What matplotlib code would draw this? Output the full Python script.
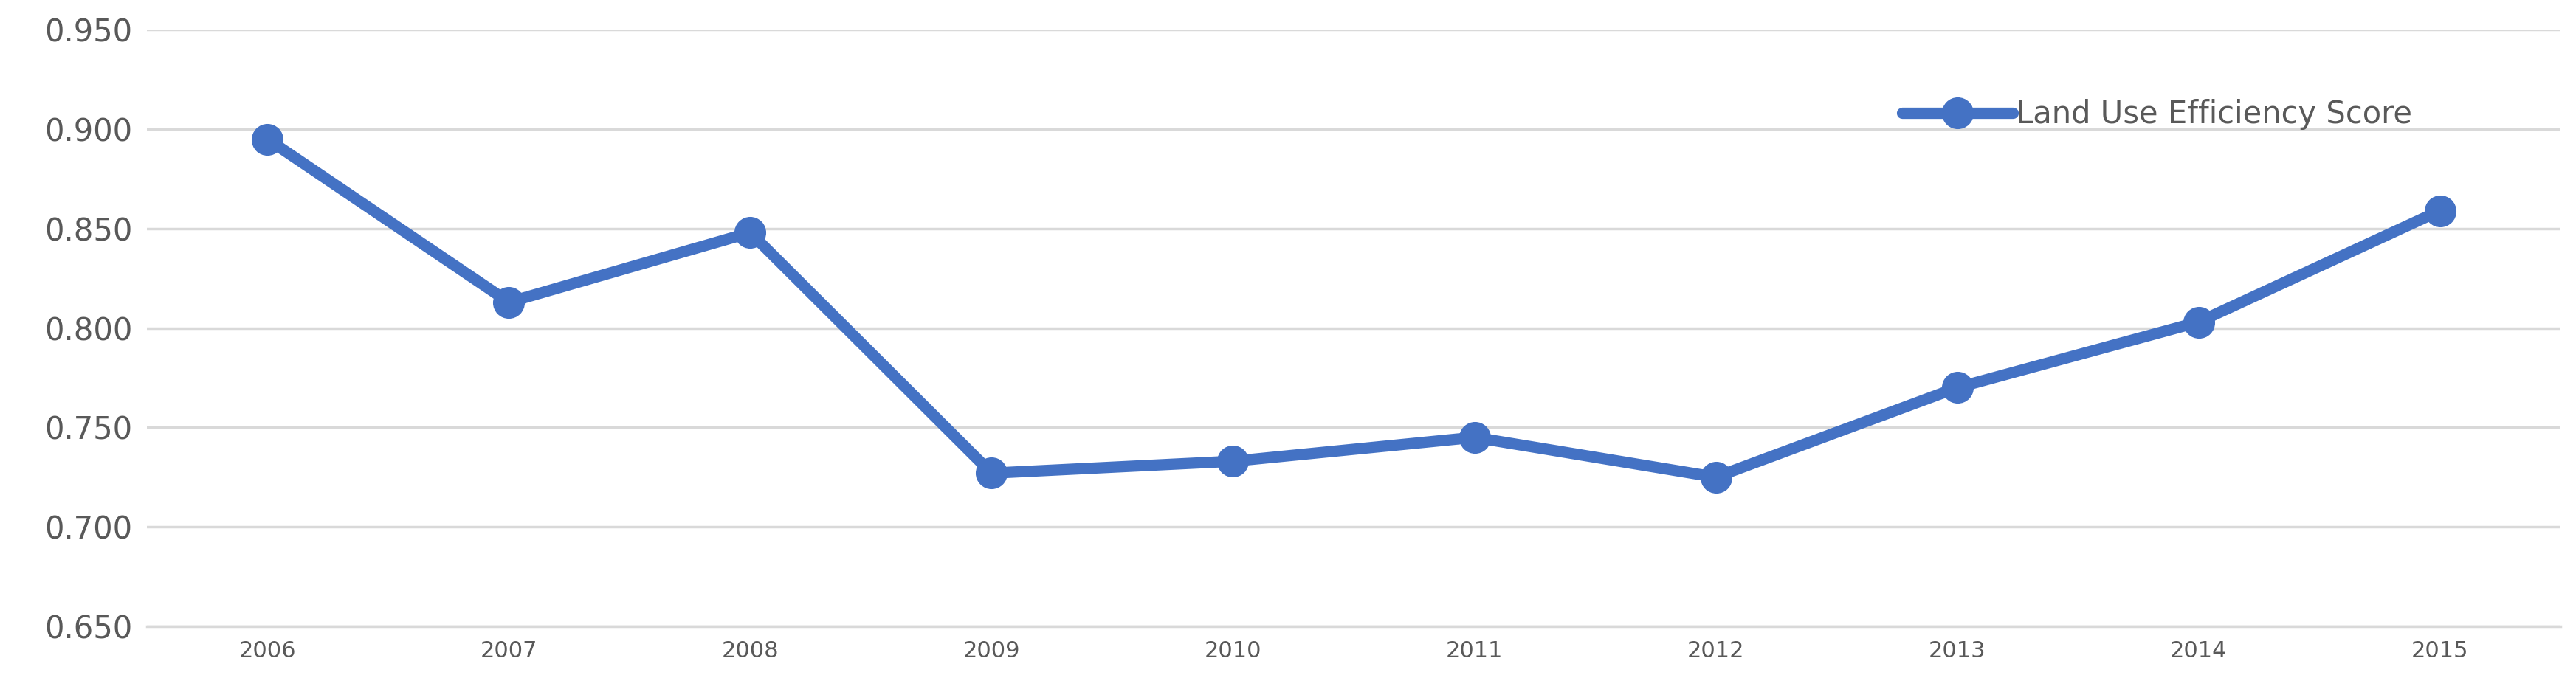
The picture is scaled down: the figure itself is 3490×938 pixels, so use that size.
import matplotlib
matplotlib.use("Agg")
import matplotlib.pyplot as plt

years = ["2006","2007","2008","2009","2010","2011","2012","2013","2014","2015"]
scores = [0.895, 0.813, 0.848, 0.727, 0.733, 0.745, 0.725, 0.770, 0.803, 0.859]
yticks = [0.650, 0.700, 0.750, 0.800, 0.850, 0.900, 0.950]

fig = plt.figure(figsize=(34.9, 9.38), dpi=100)
ax = fig.add_axes([0.057, 0.095, 0.937, 0.862])
x = list(range(len(years)))
ax.plot(x, scores, color="#4472C4", lw=11, marker="o", markersize=30,
        label="Land Use Efficiency Score", solid_capstyle="round", zorder=3)
ax.set_xlim(-0.5, len(years) - 0.5)
ax.set_ylim(0.650, 0.950)
ax.set_yticks(yticks)
ax.set_yticklabels([f"{v:.3f}" for v in yticks], fontsize=30, color="#595959")
ax.set_xticks(x)
ax.set_xticklabels(years, fontsize=22, color="#595959")
ax.grid(axis="y", color="#D9D9D9", lw=2.5)
ax.set_axisbelow(True)
for s in ax.spines.values():
    s.set_visible(False)
ax.spines["bottom"].set_visible(True)
ax.spines["bottom"].set_color("#D9D9D9")
ax.spines["bottom"].set_linewidth(2.5)
ax.tick_params(length=0, pad=14)
ax.legend(loc="upper right", bbox_to_anchor=(0.95, 0.93), frameon=False,
          fontsize=30, handlelength=3.6, handletextpad=0.1, labelcolor="#595959")
fig.savefig("out.png", dpi=100)
